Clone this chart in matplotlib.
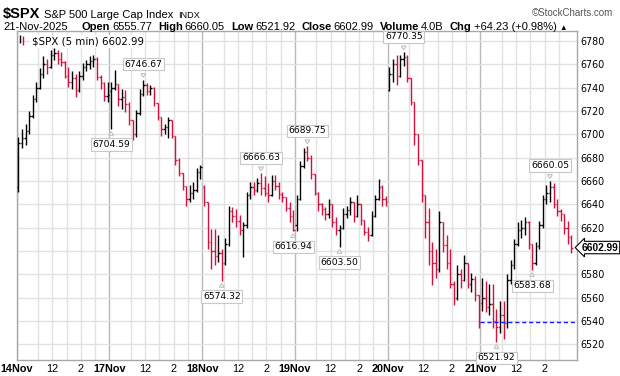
import numpy as np
import matplotlib.pyplot as plt
from matplotlib.transforms import blended_transform_factory

# sessions shown, 15-minute bars (26 per session)
days = ['14Nov', '17Nov', '18Nov', '19Nov', '20Nov', '21Nov']
day_open = [6655, 6737, 6655, 6622, 6738, 6555.77]

hi_14 = [6698, 6705, 6709, 6720, 6734, 6745, 6757, 6767, 6765, 6772, 6774, 6772, 6771,
         6763, 6758, 6754, 6752, 6754, 6761, 6764, 6767, 6768, 6766, 6751, 6745, 6745]
lo_14 = [6651, 6688, 6691, 6700, 6714, 6728, 6739, 6748, 6752, 6757, 6764, 6760, 6759,
         6748, 6741, 6739, 6732, 6736, 6747, 6754, 6756, 6758, 6747, 6739, 6729, 6728]
cl_14 = [6693, 6697, 6703, 6716, 6730, 6740, 6752, 6760, 6758, 6768, 6770, 6765, 6762,
         6750, 6745, 6748, 6738, 6750, 6758, 6760, 6763, 6765, 6749, 6744, 6733, 6734]

hi_17 = [6745, 6755, 6743, 6739, 6738, 6728, 6712, 6721, 6739, 6746.67, 6744, 6742, 6741,
         6727, 6715, 6709, 6715, 6712, 6699, 6680, 6667, 6656, 6657, 6659, 6671, 6674]
lo_17 = [6704.59, 6738, 6724, 6722, 6719, 6708, 6695, 6698, 6717, 6733, 6734, 6734, 6724,
         6712, 6699, 6700, 6697, 6697, 6674, 6664, 6652, 6639, 6642, 6645, 6651, 6662]
cl_17 = [6740, 6743, 6730, 6732, 6726, 6712, 6700, 6718, 6735, 6742, 6737, 6740, 6727,
         6715, 6705, 6706, 6712, 6699, 6678, 6667, 6656, 6645, 6650, 6652, 6668, 6672]

hi_18 = [6657, 6642, 6619, 6619, 6614, 6602, 6611, 6639, 6638, 6636, 6631, 6625, 6651,
         6659, 6659, 6663, 6666.63, 6664, 6658, 6665, 6665, 6659, 6651, 6646, 6642, 6635]
lo_18 = [6639, 6602, 6585, 6588, 6591, 6574.32, 6588, 6604, 6625, 6621, 6614, 6595, 6620,
         6645, 6648, 6651, 6648, 6647, 6642, 6647, 6652, 6645, 6642, 6634, 6625, 6616.94]
cl_18 = [6642, 6608, 6600, 6596, 6598, 6590, 6606, 6634, 6630, 6626, 6618, 6622, 6648,
         6655, 6652, 6658, 6654, 6650, 6648, 6660, 6656, 6649, 6646, 6637, 6630, 6618]

hi_19 = [6648, 6677, 6688, 6689.75, 6682, 6666, 6651, 6641, 6638, 6645, 6640, 6629, 6622,
         6637, 6639, 6646, 6642, 6648, 6640, 6627, 6621, 6634, 6648, 6662, 6657, 6647]
lo_19 = [6617, 6644, 6671, 6677, 6662, 6648, 6634, 6631, 6627, 6628, 6621, 6614, 6603.50,
         6619, 6628, 6631, 6625, 6629, 6622, 6614, 6609, 6613, 6629, 6644, 6639, 6639]
cl_19 = [6645, 6673, 6685, 6680, 6666, 6650, 6640, 6636, 6632, 6640, 6625, 6618, 6620,
         6632, 6635, 6642, 6630, 6640, 6627, 6616, 6614, 6630, 6645, 6655, 6645, 6642]

hi_20 = [6758, 6765, 6768, 6768, 6770.35, 6768, 6748, 6728, 6700, 6678, 6648, 6637, 6608,
         6602, 6634, 6625, 6614, 6602, 6574, 6588, 6585, 6597, 6590, 6581, 6579, 6562]
lo_20 = [6737, 6745, 6742, 6749, 6759, 6745, 6725, 6691, 6674, 6642, 6611, 6588, 6571,
         6577, 6582, 6599, 6585, 6568, 6554, 6558, 6568, 6574, 6568, 6565, 6557, 6534]
cl_20 = [6752, 6760, 6750, 6765, 6766, 6748, 6728, 6700, 6678, 6648, 6625, 6600, 6590,
         6585, 6625, 6605, 6590, 6572, 6560, 6580, 6575, 6590, 6572, 6576, 6562, 6538.76]

hi_21 = [6577, 6574, 6572, 6572, 6550, 6557, 6557, 6580, 6592, 6610, 6625, 6627, 6629,
         6626, 6606, 6608, 6626, 6648, 6657, 6660.05, 6658, 6645, 6636, 6632, 6626, 6614]
lo_21 = [6549, 6548, 6545, 6534, 6521.92, 6530, 6525, 6534, 6572, 6585, 6604, 6611, 6614,
         6602, 6583.68, 6588, 6602, 6620, 6640, 6642, 6637, 6630, 6626, 6615, 6606, 6598]
cl_21 = [6560, 6552, 6555, 6540, 6535, 6545, 6538, 6575, 6588, 6606, 6618, 6620, 6625,
         6606, 6590, 6604, 6622, 6645, 6650, 6655, 6640, 6634, 6632, 6620, 6612, 6602.99]

peak_labels = [6746.67, 6666.63, 6689.75, 6770.35, 6660.05]
trough_labels = [6704.59, 6574.32, 6616.94, 6603.50, 6521.92, 6583.68]

price_ticks = list(range(6520, 6781, 20))
last_close = 6602.99
chg = 64.23

RED = '#d4103c'
BARS = 26

highs = np.concatenate([hi_14, hi_17, hi_18, hi_19, hi_20, hi_21])
lows = np.concatenate([lo_14, lo_17, lo_18, lo_19, lo_20, lo_21])
closes = np.concatenate([cl_14, cl_17, cl_18, cl_19, cl_20, cl_21])
opens = np.empty_like(closes)
for d in range(len(days)):
    seg = closes[d * BARS:(d + 1) * BARS]
    opens[d * BARS] = day_open[d]
    opens[d * BARS + 1:(d + 1) * BARS] = seg[:-1]
highs = np.maximum(highs, np.maximum(opens, closes))
lows = np.minimum(lows, np.minimum(opens, closes))
xs = np.arange(len(closes)) + 0.5

W, H = 620, 376
fig = plt.figure(figsize=(W / 100, H / 100), dpi=100)
ax = fig.add_axes([16.7 / W, 1 - 360 / H, 560 / W, 329 / H])
ax.set_xlim(0, 157)
ax.set_ylim(6506.6, 6788.6)

# grid: hourly lines, heavier session lines
for d in range(len(days)):
    ax.axvline(d * BARS, color='#b8b8b8', lw=1.0, zorder=0)
    for h in (6, 10, 14, 18, 22):
        ax.axvline(d * BARS + h, color='#e2e2e2', lw=1.0, zorder=0)
for p in price_ticks:
    ax.axhline(p, color='#e2e2e2', lw=1.0, zorder=0)

up = closes >= opens
for mask, col in ((up, 'black'), (~up, RED)):
    ax.vlines(xs[mask], lows[mask], highs[mask], color=col, lw=1.0, zorder=3)
    ax.hlines(opens[mask], xs[mask] - 0.4, xs[mask], color=col, lw=1.0, zorder=3)
    ax.hlines(closes[mask], xs[mask], xs[mask] + 0.4, color=col, lw=1.0, zorder=3)

# previous close line on the last session
prev_close = last_close - chg
ax.hlines(prev_close, (len(days) - 1) * BARS, 157, color='#1a1aff', lw=1.0,
          linestyles=(0, (3, 2)), zorder=4)

box = dict(boxstyle='square,pad=0.18', fc='white', ec='#c8c8c8', lw=0.8)
wedge = dict(arrowstyle='wedge,tail_width=0.5,shrink_factor=0.6', fc='white',
             ec='#c0c0c0', lw=0.8)
for v in peak_labels:
    i = int(np.argmin(np.abs(highs - v)))
    ax.annotate(f'{v:.2f}', (xs[i], highs[i]), xytext=(0, 8), textcoords='offset points',
                ha='center', va='bottom', fontsize=6.6, family='DejaVu Sans',
                bbox=box, arrowprops=wedge, zorder=6)
for v in trough_labels:
    i = int(np.argmin(np.abs(lows - v)))
    ax.annotate(f'{v:.2f}', (xs[i], lows[i]), xytext=(0, -8), textcoords='offset points',
                ha='center', va='top', fontsize=6.6, family='DejaVu Sans',
                bbox=box, arrowprops=wedge, zorder=6)

# axes and ticks (the price tag takes the place of the nearest label)
for s in ax.spines.values():
    s.set_color('#a8a8a8')
    s.set_linewidth(1.0)
ax.yaxis.tick_right()
ax.set_yticks(price_ticks)
ax.set_yticklabels(['' if abs(p - last_close) < 10 else str(p) for p in price_ticks],
                   fontsize=6.9, family='DejaVu Sans')
ax.tick_params(axis='y', length=0, pad=3)

xt, xl = [], []
for d, name in enumerate(days):
    xt += [d * BARS, d * BARS + 10, d * BARS + 18]
    xl += [name, '12', '2']
ax.set_xticks(xt)
ax.set_xticklabels(xl, family='Liberation Sans', fontsize=7.8)
for lab in ax.get_xticklabels():
    if lab.get_text().endswith('Nov'):
        lab.set_fontweight('bold')
ax.tick_params(axis='x', length=0, pad=3)

# price tag on the right edge
tr = blended_transform_factory(ax.transAxes, ax.transData)
ax.text(1.009, last_close, f'{last_close:.2f}', transform=tr, va='center', ha='left',
        fontsize=7.3, fontweight='bold', family='Liberation Sans', zorder=7,
        bbox=dict(boxstyle='larrow,pad=0.12', fc='white', ec='black', lw=0.8))

# legend inside the plot
ax.text(0.027, 0.982, f'$SPX (5 min) {last_close:.2f}', transform=ax.transAxes,
        va='top', ha='left', fontsize=7.4, family='DejaVu Sans', zorder=7,
        bbox=dict(boxstyle='square,pad=0.15', fc='white', ec='none'))
ax.vlines([0.9, 1.8], [6778.5, 6777], [6785.5, 6784.5], color=['black', RED], lw=1.0, zorder=8)

# header
fig.canvas.draw()
rend = fig.canvas.get_renderer()


def chain(pieces, x, y):
    for txt, size, weight, col, gap in pieces:
        t = fig.text(x / W, 1 - y / H, txt, fontsize=size, fontweight=weight, color=col,
                     family=['Liberation Sans', 'DejaVu Sans'], va='baseline', ha='left')
        x += t.get_window_extent(rend).width + gap


chain([('$SPX', 10.5, 'bold', 'black', 4),
       ('S&P 500 Large Cap Index', 8, 'normal', 'black', 4),
       ('INDX', 6.6, 'normal', 'black', 0)], 3, 18)
fig.text(613 / W, 1 - 16 / H, '\u00a9StockCharts.com', fontsize=7, color='#555555',
         family='Liberation Sans', ha='right', va='baseline')
chain([('21-Nov-2025', 8, 'normal', 'black', 14),
       ('Open', 8, 'bold', 'black', 2), ('6555.77', 8, 'normal', 'black', 6),
       ('High', 8, 'bold', 'black', 2), ('6660.05', 8, 'normal', 'black', 6),
       ('Low', 8, 'bold', 'black', 2), ('6521.92', 8, 'normal', 'black', 6),
       ('Close', 8, 'bold', 'black', 2), ('6602.99', 8, 'normal', 'black', 6),
       ('Volume', 8, 'bold', 'black', 2), ('4.0B', 8, 'normal', 'black', 6),
       ('Chg', 8, 'bold', 'black', 2), ('+64.23 (+0.98%)', 8, 'normal', 'black', 3),
       ('\u25b2', 5.5, 'normal', 'black', 0)], 3, 29.5)

fig.savefig('out.png', dpi=100)
